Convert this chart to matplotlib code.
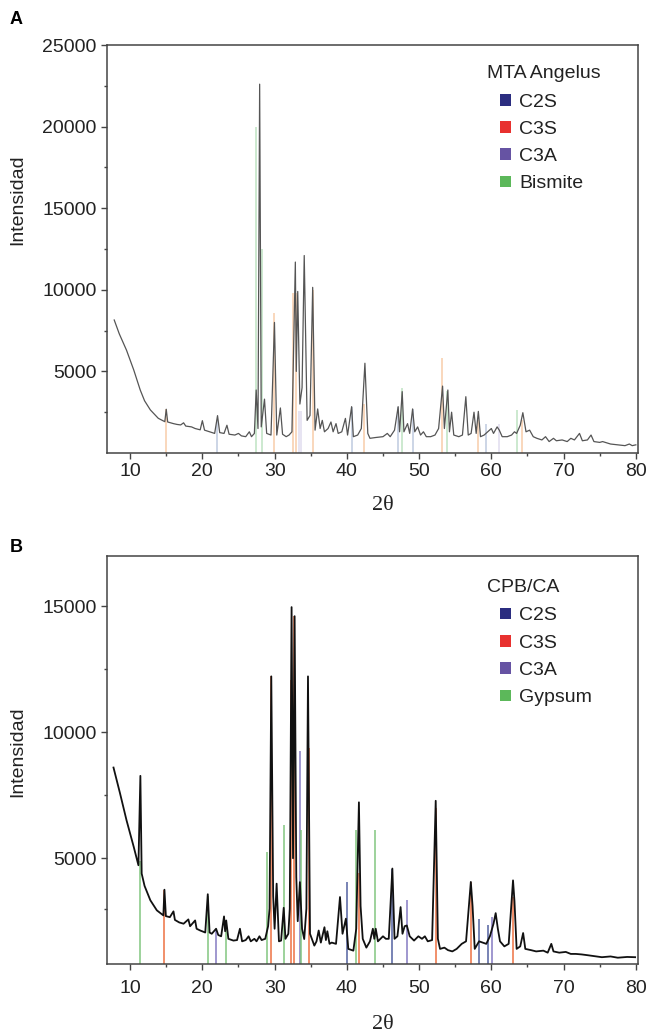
import numpy as np
from matplotlib import pyplot as plt
from matplotlib.patches import Patch
from matplotlib.ticker import MultipleLocator, FixedLocator

plt.rc('font', family=['Liberation Sans', 'DejaVu Sans'], size=14)

# ---- panel A: MTA Angelus diffractogram ----
a_theta = [7.8, 8.5, 9.5, 10.5, 11.4, 12.0, 12.8, 13.9, 14.8, 15.0, 15.2, 16.0, 16.5,
           17.0, 17.4, 17.7, 18.5, 19.0, 19.7, 20.0, 20.3, 21.0, 21.7, 22.1, 22.4,
           23.0, 23.4, 23.7, 24.5, 25.0, 25.4, 26.0, 26.5, 26.8, 27.2, 27.45, 27.7,
           27.93, 28.15, 28.6, 28.9, 29.5, 29.98, 30.3, 30.8, 31.1, 31.6, 32.0, 32.4,
           32.87, 33.0, 33.2, 33.5, 33.8, 34.1, 34.5, 34.9, 35.27, 35.6, 35.96, 36.3,
           36.6, 36.9, 37.4, 37.8, 38.1, 38.5, 38.8, 39.3, 39.8, 40.1, 40.66, 40.9,
           41.5, 42.0, 42.5, 42.9, 43.2, 44.0, 45.0, 45.6, 46.0, 46.6, 47.1, 47.3,
           47.66, 47.9, 48.4, 48.7, 49.1, 49.4, 49.8, 50.2, 50.6, 51.0, 51.6, 52.2,
           52.7, 53.25, 53.5, 53.98, 54.2, 54.5, 54.8, 55.5, 56.0, 56.47, 56.8, 57.2,
           57.6, 57.9, 58.2, 58.5, 59.0, 59.5, 60.0, 60.3, 60.8, 61.1, 61.5, 62.2,
           62.8, 63.2, 63.5, 64.0, 64.36, 64.8, 65.3, 65.8, 66.3, 67.0, 67.5, 68.0,
           68.6, 69.0, 69.8, 70.5, 71.0, 71.5, 72.2, 72.6, 73.3, 73.8, 74.2, 75.0,
           75.4, 76.5, 77.5, 78.5, 79.1, 79.5, 80.0]
a_counts = [8150, 7300, 6300, 5090, 3860, 3200, 2640, 2125, 1920, 2680, 1900, 1800, 1750,
            1720, 1850, 1650, 1600, 1500, 1420, 1980, 1400, 1300, 1200, 2290, 1250,
            1200, 1700, 1150, 1100, 1200, 1050, 1000, 1300, 1000, 1200, 3860, 1500,
            22600, 1600, 3300, 1200, 1100, 8000, 1100, 2760, 1150, 1000, 1100, 1300,
            11700, 5000, 9900, 3000, 4000, 12100, 2000, 2300, 10150, 1400, 2700, 1500,
            2000, 1300, 1500, 1900, 1300, 1800, 1200, 1300, 2120, 1100, 2840, 1000,
            1100, 1500, 5500, 1200, 900, 950, 1000, 1200, 1000, 1400, 2840, 1300,
            3760, 1300, 1800, 1200, 2700, 1300, 1600, 1100, 1300, 1000, 1000, 1100,
            1500, 4100, 1500, 3860, 1300, 2500, 1100, 1000, 1100, 3450, 1100, 1200,
            2500, 1200, 2550, 1000, 1100, 1300, 1500, 1200, 1600, 1400, 1000, 1000,
            1100, 1300, 1200, 1700, 2470, 1300, 1400, 1000, 900, 800, 1000, 700,
            900, 750, 800, 700, 900, 800, 1200, 750, 800, 1100, 700, 650,
            700, 550, 500, 450, 550, 450, 500]

# reference stick patterns, panel A (faint in the original)
a_c2s_pos = [22.0, 40.7, 47.1, 49.1, 59.3]
a_c2s_h = [2000, 2800, 2800, 2700, 1800]
a_c3s_pos = [15.0, 29.95, 32.6, 33.0, 35.3, 42.4, 53.2, 58.1, 64.2]
a_c3s_h = [2700, 8600, 9800, 9800, 10000, 3000, 5800, 2000, 2000]
a_c3a_pos = [33.4, 33.6, 61.0]
a_c3a_h = [2600, 2600, 1800]
a_bis_pos = [27.4, 28.2, 47.6, 53.9, 63.5]
a_bis_h = [20000, 12500, 3960, 3800, 2640]

# ---- panel B: CPB/CA diffractogram ----
b_theta = [7.7, 8.6, 9.5, 10.5, 11.15, 11.42, 11.6, 12.0, 12.8, 13.7, 14.6, 14.75, 14.95,
           15.5, 16.0, 16.2, 16.8, 17.4, 18.06, 18.3, 19.0, 19.2, 19.7, 20.4, 20.75,
           21.0, 21.3, 21.9, 22.2, 22.6, 23.0, 23.15, 23.3, 23.6, 24.3, 24.8, 25.2,
           25.5, 26.0, 26.4, 26.7, 27.2, 27.5, 27.9, 28.2, 28.7, 29.1, 29.3, 29.54,
           29.8, 30.0, 30.28, 30.6, 30.9, 31.26, 31.5, 31.9, 32.1, 32.35, 32.55, 32.77,
           33.0, 33.2, 33.5, 33.8, 34.1, 34.4, 34.62, 34.9, 35.5, 35.8, 36.1, 36.4,
           36.9, 37.1, 37.3, 37.6, 37.9, 38.5, 39.05, 39.4, 39.87, 40.2, 40.9, 41.3,
           41.67, 41.9, 42.2, 42.7, 43.2, 43.6, 43.8, 44.0, 44.3, 45.0, 45.4, 45.8,
           46.3, 46.6, 47.0, 47.44, 47.7, 48.0, 48.3, 48.7, 49.3, 49.9, 50.4, 50.8,
           51.2, 51.8, 52.3, 52.6, 52.9, 53.5, 54.0, 54.6, 55.2, 55.9, 56.5, 57.16,
           57.4, 57.7, 58.3, 58.8, 59.3, 59.8, 60.3, 60.6, 60.9, 61.2, 61.8, 62.4,
           63.0, 63.2, 63.5, 64.0, 64.4, 64.7, 65.5, 66.2, 67.2, 67.8, 68.3, 68.6,
           69.4, 70.3, 71.0, 71.7, 72.5, 73.3, 74.5, 75.3, 76.5, 77.5, 78.8, 79.9]
b_counts = [8600, 7580, 6510, 5450, 4720, 8270, 4390, 3900, 3330, 2930, 2730, 3750, 2700,
            2660, 2890, 2550, 2450, 2400, 2570, 2300, 2530, 2200, 2130, 2050, 3570,
            2050, 2000, 2200, 1950, 1900, 2690, 2100, 2530, 1800, 1730, 1750, 2200,
            1700, 1750, 1900, 1700, 1800, 1700, 1900, 1750, 1800, 2300, 3000, 12220,
            3500, 2200, 3990, 1700, 1730, 3030, 1800, 2000, 3000, 14970, 5000, 14610,
            4250, 2500, 4050, 2200, 1790, 3000, 12220, 2000, 1530, 1700, 2130, 1650,
            2260, 1750, 2100, 1600, 1650, 1600, 3460, 2000, 2600, 1400, 1330, 2200,
            7220, 3100, 1800, 1450, 1700, 2200, 1800, 2200, 1700, 1900, 1800, 1800,
            4590, 1800, 1900, 3060, 2000, 2300, 2330, 1900, 1730, 1900, 1800, 1900,
            1700, 1750, 7280, 1800, 1400, 1450, 1350, 1300, 1400, 1600, 1700, 4060,
            3100, 1400, 1700, 1650, 1600, 1900, 2400, 2820, 2200, 1700, 1500, 1600,
            4120, 3300, 1400, 1500, 2030, 1400, 1350, 1300, 1330, 1250, 1600, 1300,
            1250, 1280, 1200, 1200, 1180, 1150, 1100, 1070, 1100, 1050, 1080, 1070]

b_c2s_pos = [39.97, 46.3, 58.27, 59.56]
b_c2s_h = [4060, 4590, 2600, 2330]
b_c3s_pos = [14.75, 29.55, 32.27, 32.73, 34.7, 41.67, 52.3, 57.16, 63.0]
b_c3s_h = [3750, 12220, 12090, 14610, 9380, 4400, 6990, 4060, 3460]
b_c3a_pos = [21.9, 33.47, 48.27, 60.06]
b_c3a_h = [2200, 9240, 3330, 2660]
b_gyp_pos = [11.42, 20.75, 23.3, 29.0, 31.3, 33.6, 41.2, 43.9]
b_gyp_h = [4900, 3500, 2500, 5250, 6300, 6120, 6120, 6120]

c_c2s = '#2b2d80'
c_c3s = '#e8312f'
c_c3a = '#6653a3'
c_grn = '#5cb85a'

W, H = 651, 1034
fig = plt.figure(figsize=(W / 100, H / 100), dpi=100)


def panel(rect, theta, counts, sticks, stick_colors, stick_alpha, line_color, lw,
          ylim, major, minor, title, names, label, ylab_y, xlab_y, xpad):
    ax = fig.add_axes(rect)
    for (pos, h), col in zip(sticks, stick_colors):
        ax.vlines(pos, 0, h, colors=col, alpha=stick_alpha, linewidth=1.4, zorder=1)
    ax.plot(theta, counts, color=line_color, linewidth=lw, zorder=3)

    ax.set_xlim(6.8, 80.3)
    ax.set_ylim(*ylim)
    ax.xaxis.set_major_locator(MultipleLocator(10))
    ax.xaxis.set_minor_locator(MultipleLocator(5))
    ax.yaxis.set_major_locator(FixedLocator(major))
    ax.yaxis.set_minor_locator(FixedLocator(minor))
    ax.tick_params(which='major', direction='out', length=4.5, width=1, color='#444',
                   pad=3, labelsize=14, labelcolor='#222')
    ax.tick_params(axis='x', which='major', pad=xpad)
    ax.tick_params(which='minor', direction='out', length=2.5, width=1, color='#444')
    for s in ax.spines.values():
        s.set_color('#444')
        s.set_linewidth(1.1)

    ax.set_ylabel('Intensidad', fontsize=14, color='#222')
    ax.yaxis.set_label_coords(-0.153, ylab_y)
    ax.set_xlabel('2θ', fontsize=16, family=['Liberation Serif', 'DejaVu Serif'],
                  color='#222')
    ax.xaxis.set_label_coords(0.52, xlab_y)

    ax.text(0.716, title[1], title[0], transform=ax.transAxes, fontsize=14,
            color='#222', va='center', ha='left')
    handles = [Patch(facecolor=c, edgecolor='none', label=n)
               for c, n in zip([c_c2s, c_c3s, c_c3a, c_grn], names)]
    ax.legend(handles=handles, loc='upper left', bbox_to_anchor=(0.74, title[1] - 0.05),
              frameon=False, borderpad=0, borderaxespad=0, handlelength=0.55,
              handleheight=0.55, handletextpad=0.45, labelspacing=0.53, fontsize=14,
              labelcolor='#222')

    fig.text(10 / W, 1 - label[1] / H, label[0], fontsize=13, fontweight='bold',
             va='center', ha='left')
    return ax


ax1 = panel([107 / W, 1 - 453 / H, 531 / W, 408 / H], a_theta, a_counts,
            [(a_c2s_pos, a_c2s_h), (a_c3s_pos, a_c3s_h), (a_c3a_pos, a_c3a_h),
             (a_bis_pos, a_bis_h)],
            ['#8fa3c8', '#f2a86a', '#c9c3e2', '#8fcf96'], 0.45, '#555555', 0.9,
            (0, 25000), [5000, 10000, 15000, 20000, 25000],
            [2500, 7500, 12500, 17500, 22500],
            ('MTA Angelus', 0.931), ['C2S', 'C3S', 'C3A', 'Bismite'], ('A', 20),
            0.62, -0.105, 3)

ax2 = panel([107 / W, 1 - 964 / H, 531 / W, 408 / H], b_theta, b_counts,
            [(b_c2s_pos, b_c2s_h), (b_c3s_pos, b_c3s_h), (b_c3a_pos, b_c3a_h),
             (b_gyp_pos, b_gyp_h)],
            ['#4b5a9c', '#ec6a3a', '#7f74bf', '#7cc37a'], 0.75, '#111111', 1.3,
            (800, 17000), [5000, 10000, 15000], [3000, 7500, 12500],
            ('CPB/CA', 0.924), ['C2S', 'C3S', 'C3A', 'Gypsum'], ('B', 548),
            0.52, -0.125, 7)

plt.savefig('out.png', dpi=100)
